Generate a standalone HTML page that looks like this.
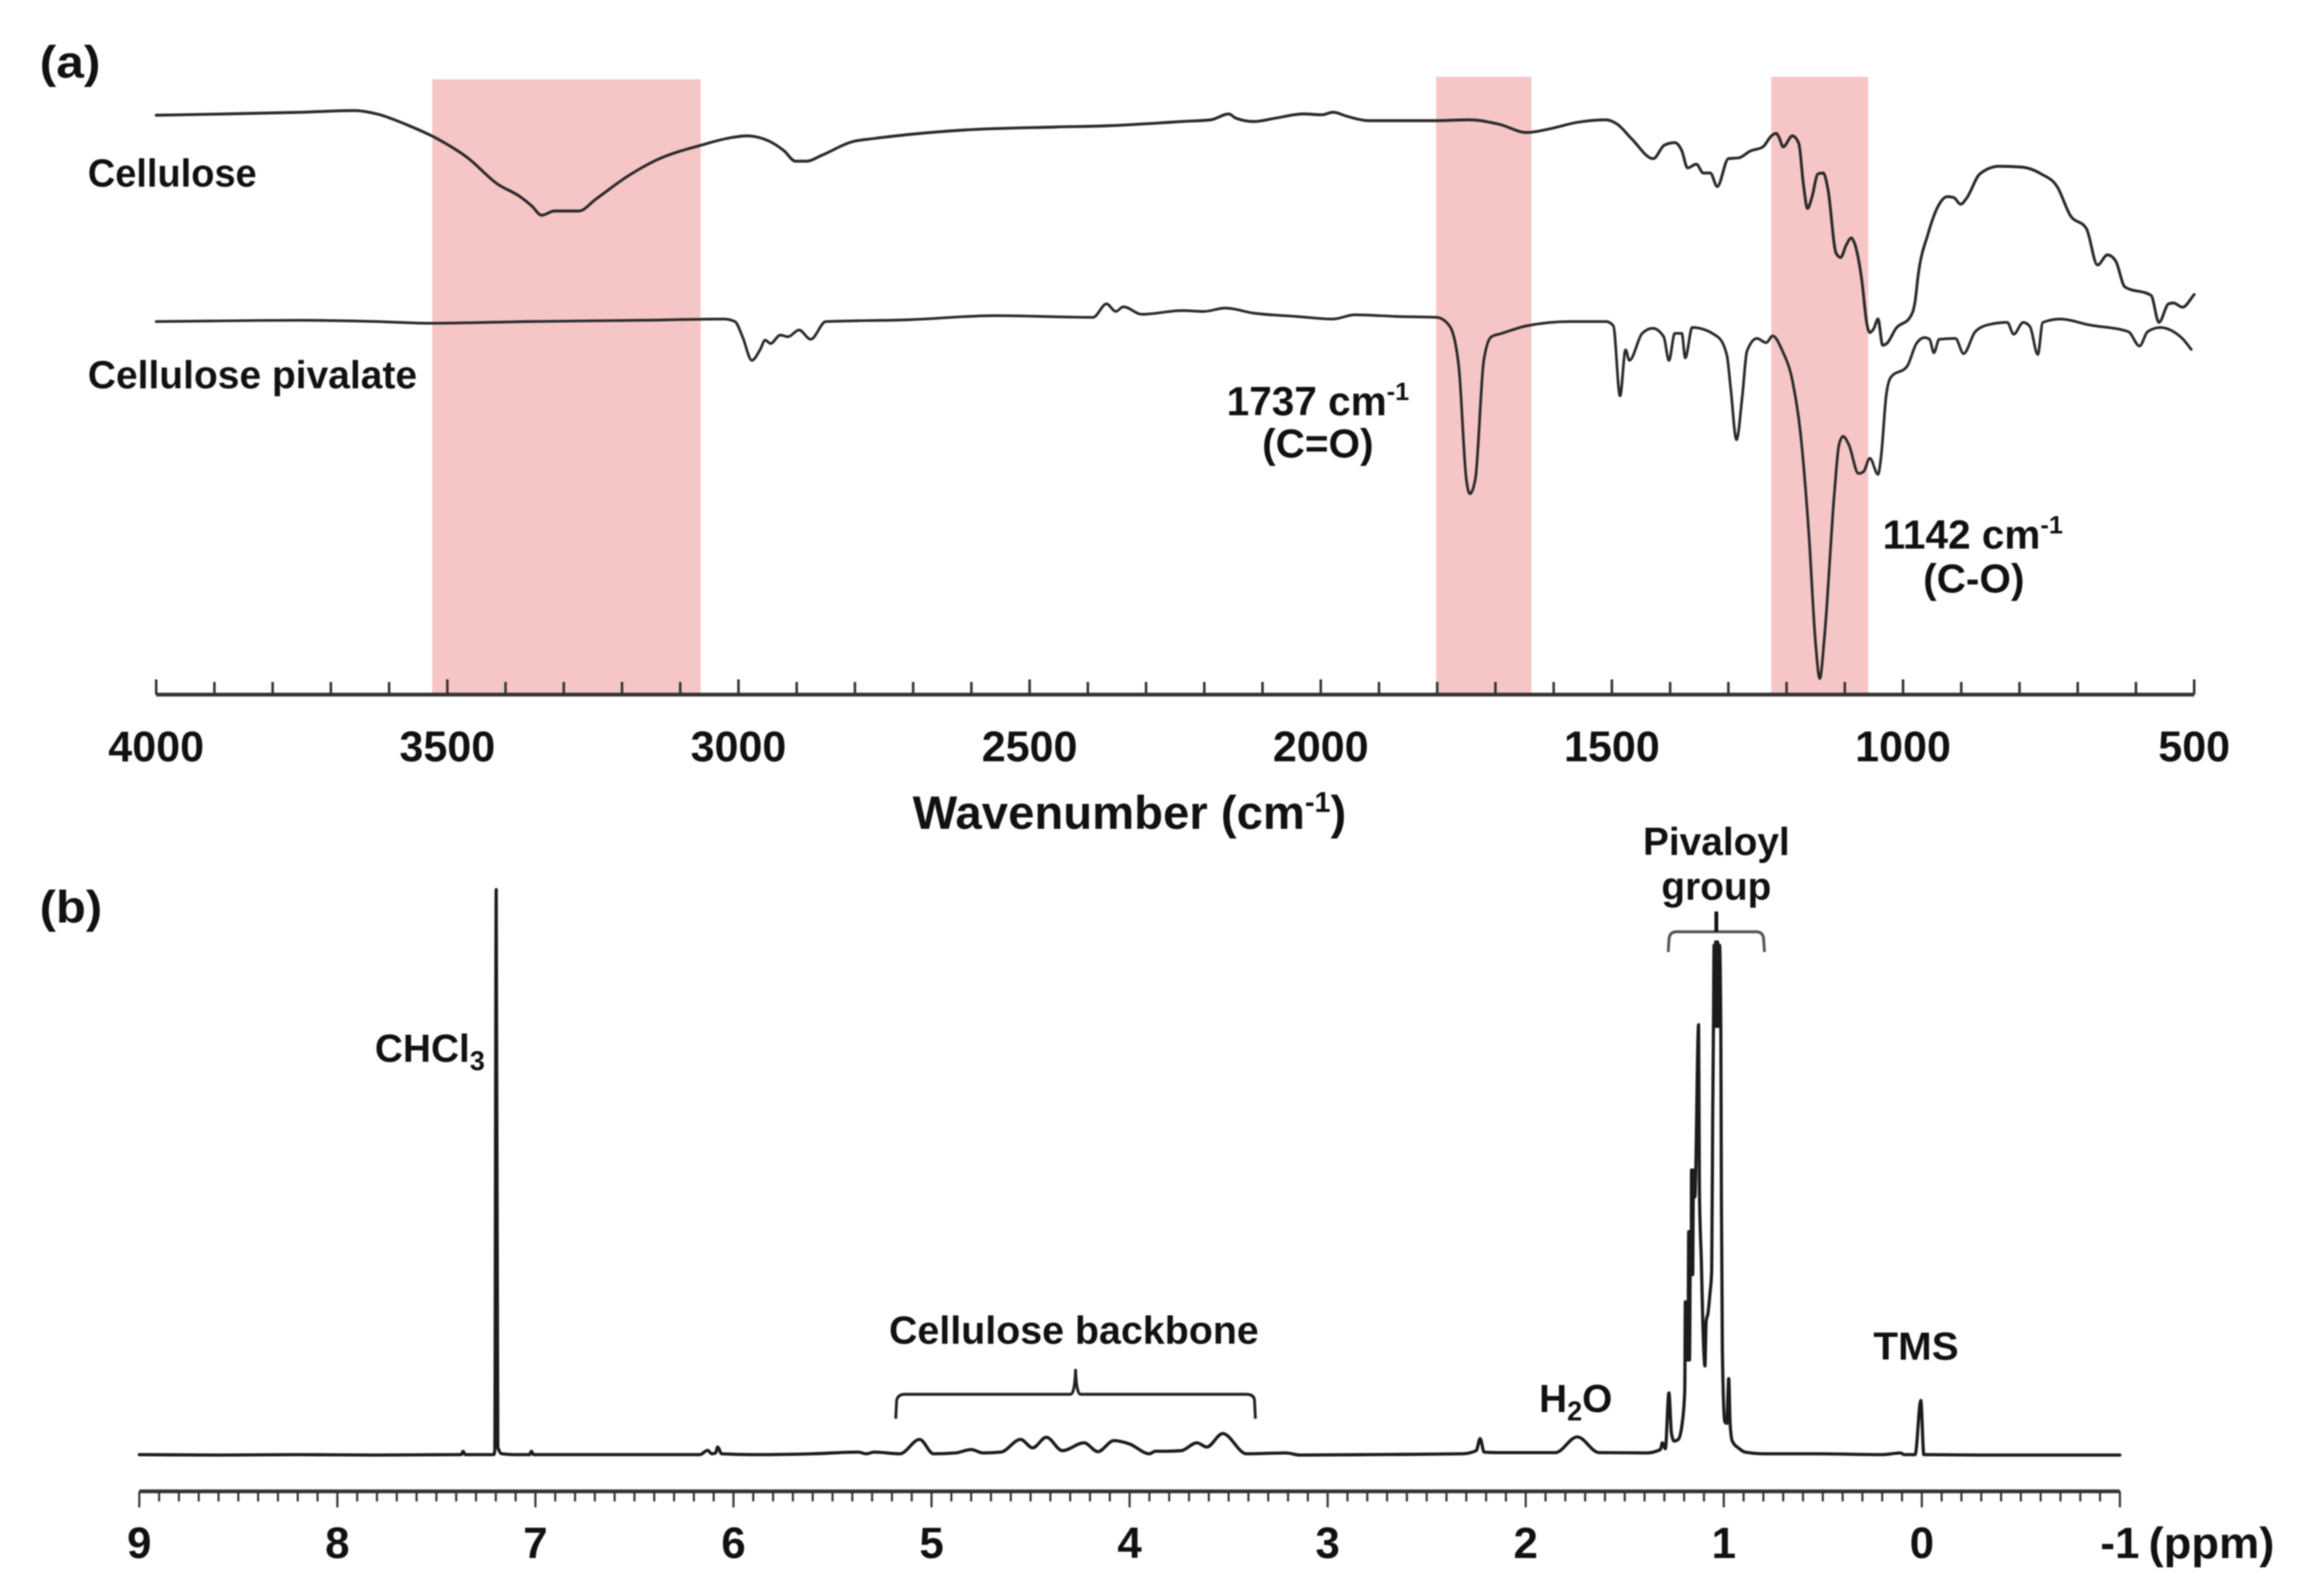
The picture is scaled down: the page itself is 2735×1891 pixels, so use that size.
<!DOCTYPE html>
<html>
<head>
<meta charset="utf-8">
<style>
html,body{margin:0;padding:0;background:#fff;}
svg{display:block;filter:blur(0.7px);}
text{font-family:"Liberation Sans",sans-serif;font-weight:bold;fill:#111;}
</style>
</head>
<body>
<svg id="fig" xmlns="http://www.w3.org/2000/svg" width="2735" height="1891" viewBox="0 0 2735 1891">
  <rect x="0" y="0" width="2735" height="1891" fill="#fff"/>
  <rect x="512" y="94" width="318" height="729" fill="#f6c6c6"/>
  <rect x="1701" y="91" width="113" height="732" fill="#f6c6c6"/>
  <rect x="2098" y="91" width="115" height="732" fill="#f6c6c6"/>
  <g id="ir-axis"></g>
  <g id="nmr-axis"></g>
  <g id="series"></g>

  <text x="47" y="92" font-size="54" textLength="72" lengthAdjust="spacingAndGlyphs">(a)</text>
  <text x="47" y="1093" font-size="54" textLength="74" lengthAdjust="spacingAndGlyphs">(b)</text>
  <text x="104" y="221" font-size="46" textLength="200" lengthAdjust="spacingAndGlyphs">Cellulose</text>
  <text x="104" y="460" font-size="46" textLength="390" lengthAdjust="spacingAndGlyphs">Cellulose pivalate</text>
  <text x="1453" y="492" font-size="48">1737 cm<tspan font-size="30" dy="-18">-1</tspan></text>
  <text x="1561" y="542" font-size="48" text-anchor="middle">(C=O)</text>
  <text x="2230" y="650" font-size="48">1142 cm<tspan font-size="30" dy="-18">-1</tspan></text>
  <text x="2338" y="702" font-size="48" text-anchor="middle">(C-O)</text>
  <text x="1081" y="982" font-size="56">Wavenumber (cm<tspan font-size="34" dy="-20">-1</tspan><tspan dy="20">)</tspan></text>

  <text x="444" y="1258" font-size="46">CHCl<tspan font-size="32" dy="10">3</tspan></text>
  <text x="1053" y="1592" font-size="46" textLength="438" lengthAdjust="spacingAndGlyphs">Cellulose backbone</text>
  <text x="1823" y="1673" font-size="46">H<tspan font-size="32" dy="10">2</tspan><tspan dy="-10">O</tspan></text>
  <text x="2219" y="1611" font-size="46" textLength="101" lengthAdjust="spacingAndGlyphs">TMS</text>
  <text x="2033" y="1013" font-size="46" text-anchor="middle">Pivaloyl</text>
  <text x="2033" y="1066" font-size="46" text-anchor="middle">group</text>
  <text x="2545" y="1846" font-size="52" textLength="149" lengthAdjust="spacingAndGlyphs">(ppm)</text>

  <path d="M1061 1681 L1062 1660 Q1063 1652 1072 1652 L1268 1652 Q1273 1652 1274 1622 Q1275 1652 1280 1652 L1476 1652 Q1486 1652 1486 1660 L1487 1681" fill="none" stroke="#222" stroke-width="3.4"/>
  <path d="M1976 1128 L1977 1112 Q1978 1104 1986 1104 L2080 1104 Q2088 1104 2089 1112 L2090 1128" fill="none" stroke="#555" stroke-width="3.4"/>
  <path d="M2033 1080 L2033 1104" fill="none" stroke="#111" stroke-width="4.5"/>
</svg>
<script>
// Infrared spectra: wavenumber (cm-1) and signal (a.u.)
const celluloseWavenumber = [4000,3880,3750,3660,3621,3569,3517,3465,3414,3375,3355,3338,3316,3297,3274,3245,3193,3142,3064,3012,2986,2948,2922,2902,2883,2857,2805,2766,2702,2611,2456,2365,2238,2189,2158,2146,2115,2078,2029,1998,1979,1954,1917,1806,1744,1695,1646,1609,1560,1510,1491,1466,1429,1410,1392,1380,1370,1355,1343,1331,1319,1300,1282,1262.5,1240.6,1226,1218,1212.5,1206,1190,1179,1171,1164,1157,1146,1137,1129,1115,1107,1098,1089,1082,1071,1062,1057,1050,1043,1035,1028,1012,988,979.5,974,957,941,924,913,901,891,868,835,796,763,735,713,685,666,649,635,619,574,560.5,544,535.5,520,500];
const celluloseSignal = [686.5,688,690,692,688,675,658.5,636,605,590,579,568,573,573,573,587,613,633,651,660,662,656,644.5,632,632,639,655,659,664,669,672.5,674,679,681,688,683,679,683,688,687,690,685,680,680,681,676,666,670,678,681,676,658.5,635,651,654,644.5,624,628.5,618,618,602,635,636,644,649,662,665,659.5,649,662,653,604,576,588,617,618,599,523,518,532,541,532,492,439,429,434,445,414,416,434,447,465,497,546,577,590,589,581,588,617,626,625,617,601.5,568,552,509,521,514,483,473,441,463,464,459,474];
const pivalateWavenumber = [4000,3750,3621,3530,3362,3168,3025,3006,2993,2977,2963,2954,2945,2928,2915,2896,2876,2850,2714,2559,2391,2368,2352,2339,2307,2238,2201,2164,2115,2041,1979,1942,1868,1801,1779,1763,1750,1744,1734.6,1720,1707,1689,1646,1572,1510,1497.5,1486,1476.5,1470,1448,1430,1411,1402,1392,1380,1374,1362,1318.5,1302.5,1296,1286,1276,1268,1251,1235,1224,1207,1190,1176,1162,1150,1143,1135,1118,1110,1103,1093,1076.6,1068,1057,1043,1037.7,1029,1021,993,977,963,954.5,947,938,910,896,876,852,821,810,793.6,782,768.6,760,730,680,613,593.8,580,558,535.5,519,505];
const pivalateSignal = [442,443.5,442,440,442,443.5,445,442,424,396,408.5,420,416,426,424,432,421,442,444,449,447,463,454,459.5,450.6,455,454,458,452,448,445,450,448,447,437,389,255,238,255,396,424,428,437,442,442,437,354,408.5,396,428,434,424,396,428,428,399,435,424,402,363,302,354,407,422,417,425,407,372,309,193,59,19,68,238,296,306,296,262,264,280,261,282,354,376,389,416,423,421,405,421,422,404,430,438.5,441,427,441,436,403,441,445,438,430,413,430,435,430,421,409];
const irTicks = [4000,3900,3800,3700,3600,3500,3400,3300,3200,3100,3000,2900,2800,2700,2600,2500,2400,2300,2200,2100,2000,1900,1800,1700,1600,1500,1400,1300,1200,1100,1000,900,800,700,600,500];
const irTickLabels = ["4000","3500","3000","2500","2000","1500","1000","500"];

// 1H NMR spectrum: chemical shift (ppm) and intensity (a.u.)
const nmrPpm = [9,8.6,8.2,7.8,7.4,7.375,7.365,7.355,7.3,7.22,7.21,7.205,7.198,7.19,7.17,7.1,7.03,7.02,7.01,6.8,6.4,6.17,6.13,6.11,6.09,6.08,6.06,5.9,5.6,5.37,5.33,5.29,5.16,5.06,4.99,4.88,4.8,4.74,4.65,4.55,4.49,4.42,4.34,4.23,4.16,4.08,4,3.9,3.87,3.82,3.74,3.66,3.61,3.53,3.41,3.21,3.14,2.8,2.32,2.25,2.23,2.21,2.14,1.85,1.74,1.63,1.39,1.32,1.31,1.295,1.277,1.264,1.25,1.23,1.21,1.197,1.194,1.19,1.186,1.181,1.177,1.173,1.168,1.164,1.163,1.157,1.153,1.146,1.127,1.123,1.113,1.106,1.095,1.089,1.08,1.07,1.061,1.056,1.052,1.049,1.044,1.041,1.035,1.031,1.025,1.021,1.015,1.012,1.007,0.995,0.985,0.975,0.968,0.957,0.921,0.893,0.794,0.538,0.2,0.107,0.09,0.034,0.005,-0.01,-0.3,-0.7,-1];
const nmrIntensity = [1,0.5,1,0.5,1,1,5,1,1,1,1,6,670,10,2,1,1,5,1,1,1,1,6,2,3,10,2,1,2,4,2,4,2,19,2,3,7,3,4,19,9,21.6,5.7,15,4.5,17.6,13.6,2,5,5,5.7,15,10,26,2,3,0.5,1,2,5.7,20,4,3.4,3.4,22,3.4,3,7,15,8,74,26,17,19,38,77,182,113,180,113,265,113,265,214,338,214,338,306,510,315,228,159,106,159,168,191,219,398,508,604,508,608,508,608,508,604,508,306,123,40,38,91,38,17,8,4,2,2,1,3,1,1,65,1,0.5,0.5,0.5];
const nmrTicks = [9,8.9,8.8,8.7,8.6,8.5,8.4,8.3,8.2,8.1,8,7.9,7.8,7.7,7.6,7.5,7.4,7.3,7.2,7.1,7,6.9,6.8,6.7,6.6,6.5,6.4,6.3,6.2,6.1,6,5.9,5.8,5.7,5.6,5.5,5.4,5.3,5.2,5.1,5,4.9,4.8,4.7,4.6,4.5,4.4,4.3,4.2,4.1,4,3.9,3.8,3.7,3.6,3.5,3.4,3.3,3.2,3.1,3,2.9,2.8,2.7,2.6,2.5,2.4,2.3,2.2,2.1,2,1.9,1.8,1.7,1.6,1.5,1.4,1.3,1.2,1.1,1,0.9,0.8,0.7,0.6,0.5,0.4,0.3,0.2,0.1,0,-0.1,-0.2,-0.3,-0.4,-0.5,-0.6,-0.7,-0.8,-0.9,-1];
const nmrTickLabels = ["9","8","7","6","5","4","3","2","1","0","-1"];

const SVGNS = "http://www.w3.org/2000/svg";
function linear(d0, d1, r0, r1) {
  return function (v) { return r0 + (v - d0) * (r1 - r0) / (d1 - d0); };
}
const irX = linear(4000, 500, 185, 2599);
const irY = linear(0, 800, 823, 23);
const nmrX = linear(9, -1, 165, 2511);
const nmrY = linear(0, 670, 1724.5, 1054);

// Monotone cubic through the points, no overshoot past a read value.
function linePath(xs, ys, xScale, yScale) {
  const px = xs.map(xScale);
  const py = ys.map(yScale);
  const n = px.length;
  const slope = [];
  for (let i = 0; i < n - 1; i++) {
    slope.push((py[i + 1] - py[i]) / (px[i + 1] - px[i]));
  }
  const m = [slope[0]];
  for (let i = 1; i < n - 1; i++) {
    if (slope[i - 1] * slope[i] <= 0) {
      m.push(0);
    } else {
      const h0 = px[i] - px[i - 1];
      const h1 = px[i + 1] - px[i];
      const p = (slope[i - 1] * h1 + slope[i] * h0) / (h0 + h1);
      const lim = 2 * Math.min(Math.abs(slope[i - 1]), Math.abs(slope[i]));
      m.push(Math.sign(slope[i]) * Math.min(Math.abs(p), lim));
    }
  }
  m.push(slope[n - 2]);
  let d = "M" + px[0].toFixed(2) + " " + py[0].toFixed(2);
  for (let i = 0; i < n - 1; i++) {
    const h = (px[i + 1] - px[i]) / 3;
    d += "C" + (px[i] + h).toFixed(2) + " " + (py[i] + m[i] * h).toFixed(2) + " " +
         (px[i + 1] - h).toFixed(2) + " " + (py[i + 1] - m[i + 1] * h).toFixed(2) + " " +
         px[i + 1].toFixed(2) + " " + py[i + 1].toFixed(2);
  }
  return d;
}
function drawLine(parent, x1, y1, x2, y2, color, width) {
  const el = document.createElementNS(SVGNS, "line");
  el.setAttribute("x1", x1);
  el.setAttribute("y1", y1);
  el.setAttribute("x2", x2);
  el.setAttribute("y2", y2);
  el.setAttribute("stroke", color);
  el.setAttribute("stroke-width", width);
  parent.appendChild(el);
  return el;
}
function drawTickText(parent, x, y, size, label) {
  const el = document.createElementNS(SVGNS, "text");
  el.setAttribute("x", x);
  el.setAttribute("y", y);
  el.setAttribute("font-size", size);
  el.setAttribute("text-anchor", "middle");
  el.textContent = label;
  parent.appendChild(el);
  return el;
}
function drawSeries(parent, xs, ys, xScale, yScale, color, width) {
  const el = document.createElementNS(SVGNS, "path");
  el.setAttribute("d", linePath(xs, ys, xScale, yScale));
  el.setAttribute("fill", "none");
  el.setAttribute("stroke", color);
  el.setAttribute("stroke-width", width);
  el.setAttribute("stroke-linejoin", "round");
  el.setAttribute("stroke-linecap", "round");
  parent.appendChild(el);
  return el;
}

const irAxis = document.getElementById("ir-axis");
const nmrAxis = document.getElementById("nmr-axis");
const seriesGroup = document.getElementById("series");

const irBaseline = drawLine(irAxis, irX(4000), 823, irX(500), 823, "#333", 4.5);


irTicks.forEach(function (t) {
  const major = t % 500 === 0;
  const tick = drawLine(irAxis, irX(t), 823, irX(t), major ? 805 : 808, "#333", 3);
  
  
});
irTickLabels.forEach(function (label) {
  const txt = drawTickText(irAxis, irX(Number(label)), 902, 51, label);
  
  
});

const nmrBaseline = drawLine(nmrAxis, nmrX(9), 1767, nmrX(-1), 1767, "#333", 4.5);


nmrTicks.forEach(function (t) {
  const major = Math.abs(t - Math.round(t)) < 1e-6;
  const tick = drawLine(nmrAxis, nmrX(t), 1767, nmrX(t), major ? 1786 : 1779, "#333", 2.5);
  
  
});
nmrTickLabels.forEach(function (label) {
  const txt = drawTickText(nmrAxis, nmrX(Number(label)), 1846, 52, label);
  
  
});

const cellulosePath = drawSeries(seriesGroup, celluloseWavenumber, celluloseSignal, irX, irY, "#2a2a2a", 3.4);


const pivalatePath = drawSeries(seriesGroup, pivalateWavenumber, pivalateSignal, irX, irY, "#2a2a2a", 3.2);


const nmrPath = drawSeries(seriesGroup, nmrPpm, nmrIntensity, nmrX, nmrY, "#1c1c1c", 3.8);


</script>
</body>
</html>
